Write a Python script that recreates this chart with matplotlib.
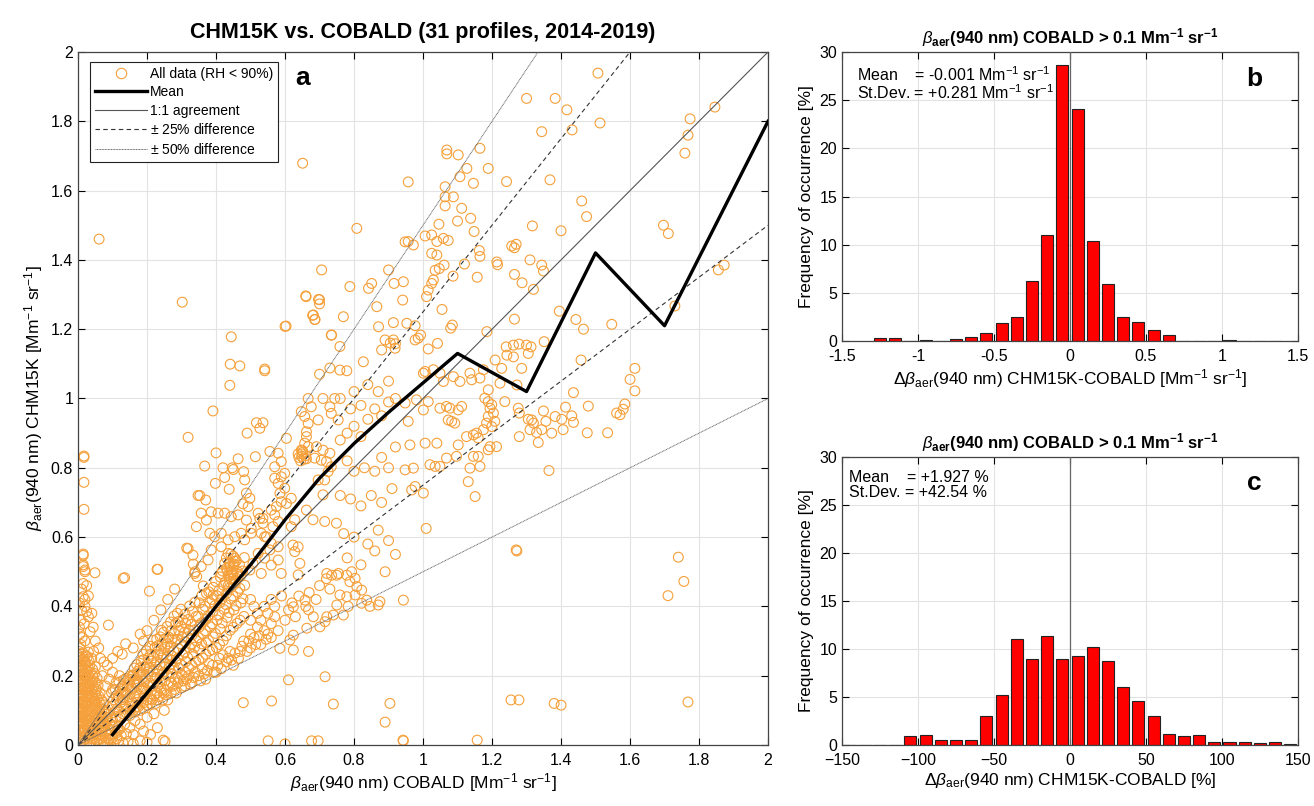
import numpy as np
import matplotlib
matplotlib.use("Agg")
import matplotlib.pyplot as plt
from matplotlib.lines import Line2D

plt.rcParams['font.family'] = ['Liberation Sans', 'DejaVu Sans']
plt.rcParams['mathtext.fontset'] = 'custom'
plt.rcParams['mathtext.rm'] = 'Liberation Sans'
plt.rcParams['mathtext.it'] = 'Liberation Sans:italic'
plt.rcParams['mathtext.bf'] = 'Liberation Sans:bold'

# ---- panel a: scatter points (COBALD, CHM15K) ----
pts_origin = [
    (0.005, 0.005), (0.015, 0.012), (0.025, 0.004), (0.035, 0.010), (0.045, 0.006), (0.055, 0.013),
    (0.065, 0.004), (0.075, 0.011), (0.085, 0.006), (0.095, 0.014), (0.105, 0.005), (0.118, 0.012),
    (0.130, 0.006), (0.145, 0.010), (0.160, 0.004), (0.180, 0.012), (0.200, 0.008),
    (0.003, 0.028), (0.012, 0.033), (0.022, 0.026), (0.032, 0.034), (0.042, 0.027), (0.052, 0.035),
    (0.062, 0.030), (0.072, 0.025), (0.082, 0.033), (0.092, 0.028), (0.110, 0.034), (0.125, 0.027), (0.140, 0.032),
    (0.006, 0.052), (0.016, 0.048), (0.026, 0.055), (0.036, 0.050), (0.046, 0.047), (0.056, 0.056),
    (0.066, 0.050), (0.076, 0.054), (0.088, 0.047), (0.100, 0.055), (0.115, 0.050),
    (0.002, 0.072), (0.012, 0.068), (0.022, 0.075), (0.032, 0.070), (0.042, 0.066), (0.052, 0.074),
    (0.062, 0.069), (0.072, 0.076), (0.083, 0.070), (0.095, 0.078),
    (0.005, 0.092), (0.015, 0.088), (0.025, 0.095), (0.035, 0.090), (0.045, 0.086), (0.055, 0.094),
    (0.065, 0.089), (0.075, 0.096), (0.087, 0.090),
    (0.003, 0.112), (0.013, 0.108), (0.023, 0.115), (0.033, 0.110), (0.043, 0.106), (0.053, 0.114),
    (0.063, 0.109), (0.075, 0.116),
    (0.006, 0.132), (0.016, 0.128), (0.026, 0.135), (0.036, 0.130), (0.046, 0.126), (0.056, 0.134), (0.068, 0.130),
    (0.002, 0.152), (0.012, 0.148), (0.022, 0.155), (0.032, 0.150), (0.042, 0.146), (0.052, 0.154), (0.064, 0.150),
    (0.005, 0.172), (0.015, 0.168), (0.025, 0.175), (0.035, 0.170), (0.045, 0.166), (0.058, 0.172),
    (0.003, 0.192), (0.013, 0.188), (0.023, 0.195), (0.033, 0.190), (0.043, 0.186), (0.055, 0.193),
    (0.006, 0.212), (0.016, 0.208), (0.026, 0.215), (0.036, 0.210), (0.048, 0.206),
    (0.002, 0.232), (0.012, 0.228), (0.022, 0.235), (0.034, 0.230), (0.050, 0.226),
    (0.005, 0.252), (0.015, 0.248), (0.027, 0.255), (0.040, 0.250),
    (0.003, 0.270), (0.014, 0.266), (0.030, 0.268),
    (0.008, 0.290), (0.020, 0.300), (0.005, 0.320), (0.035, 0.327), (0.044, 0.340), (0.030, 0.370),
    (0.025, 0.385), (0.020, 0.400), (0.015, 0.428), (0.015, 0.466), (0.088, 0.346),
    (0.070, 0.200), (0.080, 0.170), (0.090, 0.190), (0.100, 0.160), (0.110, 0.180), (0.120, 0.200),
    (0.130, 0.170), (0.085, 0.230), (0.100, 0.210), (0.140, 0.150), (0.150, 0.190), (0.160, 0.200),
    (0.170, 0.180), (0.180, 0.210),
]

pts_origin_fill = [
    (0.000, 0.018), (0.010, 0.020), (0.020, 0.017), (0.030, 0.021), (0.040, 0.018), (0.050, 0.020),
    (0.060, 0.016), (0.070, 0.019), (0.080, 0.021), (0.090, 0.017), (0.100, 0.020), (0.112, 0.018),
    (0.000, 0.040), (0.010, 0.042), (0.020, 0.039), (0.030, 0.041), (0.040, 0.038), (0.050, 0.043),
    (0.060, 0.040), (0.070, 0.042), (0.080, 0.039), (0.094, 0.041), (0.108, 0.040),
    (0.000, 0.061), (0.010, 0.063), (0.020, 0.060), (0.030, 0.062), (0.040, 0.059), (0.050, 0.064),
    (0.060, 0.061), (0.070, 0.063), (0.080, 0.060), (0.092, 0.062),
    (0.000, 0.081), (0.010, 0.083), (0.020, 0.080), (0.030, 0.082), (0.040, 0.079), (0.050, 0.084),
    (0.060, 0.081), (0.070, 0.083), (0.082, 0.080),
    (0.000, 0.101), (0.010, 0.103), (0.020, 0.100), (0.030, 0.102), (0.040, 0.099), (0.050, 0.104),
    (0.060, 0.101), (0.070, 0.103), (0.081, 0.100),
    (0.000, 0.121), (0.010, 0.123), (0.020, 0.120), (0.030, 0.122), (0.040, 0.119), (0.050, 0.124),
    (0.062, 0.121), (0.074, 0.123),
    (0.000, 0.141), (0.010, 0.143), (0.020, 0.140), (0.030, 0.142), (0.040, 0.139), (0.050, 0.144), (0.060, 0.141),
    (0.000, 0.161), (0.010, 0.163), (0.020, 0.160), (0.030, 0.162), (0.040, 0.159), (0.052, 0.161),
    (0.000, 0.181), (0.010, 0.183), (0.020, 0.180), (0.030, 0.182), (0.040, 0.179), (0.050, 0.181),
    (0.000, 0.201), (0.010, 0.203), (0.020, 0.200), (0.030, 0.202), (0.042, 0.199),
    (0.000, 0.221), (0.010, 0.223), (0.020, 0.220), (0.030, 0.222), (0.042, 0.219),
    (0.000, 0.241), (0.010, 0.243), (0.020, 0.240), (0.032, 0.242),
    (0.000, 0.259), (0.010, 0.261), (0.021, 0.258),
    (0.005, 0.280), (0.012, 0.310), (0.004, 0.340), (0.018, 0.350), (0.008, 0.360), (0.010, 0.390),
    (0.004, 0.410), (0.020, 0.420), (0.030, 0.430), (0.010, 0.450), (0.025, 0.460), (0.040, 0.380),
    (0.050, 0.300), (0.060, 0.280), (0.045, 0.270), (0.065, 0.250), (0.075, 0.240),
    (0.120, 0.045), (0.135, 0.060), (0.150, 0.050), (0.165, 0.070), (0.180, 0.060), (0.200, 0.080),
    (0.220, 0.090), (0.190, 0.040), (0.210, 0.030), (0.230, 0.050), (0.250, 0.100), (0.160, 0.030),
]

pts_left_column = [
    (0.015, 0.551), (0.015, 0.520), (0.020, 0.505), (0.049, 0.497), (0.015, 0.547), (0.015, 0.515),
    (0.020, 0.500), (0.017, 0.834), (0.017, 0.830), (0.017, 0.758), (0.017, 0.680), (0.061, 1.460),
    (0.131, 0.481), (0.135, 0.483), (0.229, 0.507), (0.231, 0.507), (0.207, 0.444),
    (0.100, 0.250), (0.115, 0.270), (0.128, 0.262), (0.138, 0.292), (0.160, 0.280), (0.180, 0.320),
    (0.200, 0.330), (0.220, 0.360), (0.190, 0.300), (0.240, 0.390), (0.260, 0.420), (0.280, 0.450),
]

pts_band = [
    (0.100, 0.072), (0.104, 0.093), (0.098, 0.112), (0.103, 0.131), (0.097, 0.151),
    (0.121, 0.082), (0.118, 0.101), (0.123, 0.122), (0.117, 0.141), (0.122, 0.162), (0.119, 0.181),
    (0.141, 0.091), (0.138, 0.112), (0.143, 0.131), (0.137, 0.152), (0.142, 0.171), (0.139, 0.192),
    (0.161, 0.101), (0.158, 0.122), (0.163, 0.141), (0.157, 0.162), (0.162, 0.181), (0.159, 0.202), (0.163, 0.222),
    (0.181, 0.121), (0.178, 0.142), (0.183, 0.161), (0.177, 0.182), (0.182, 0.201), (0.179, 0.222), (0.183, 0.243),
    (0.201, 0.131), (0.198, 0.152), (0.203, 0.171), (0.197, 0.192), (0.202, 0.211), (0.199, 0.232),
    (0.203, 0.251), (0.198, 0.272),
    (0.221, 0.142), (0.218, 0.171), (0.223, 0.191), (0.217, 0.212), (0.222, 0.231), (0.219, 0.252),
    (0.223, 0.281), (0.218, 0.302),
    (0.241, 0.161), (0.238, 0.182), (0.243, 0.201), (0.237, 0.232), (0.242, 0.251), (0.239, 0.272),
    (0.243, 0.291), (0.238, 0.312), (0.242, 0.331),
    (0.261, 0.171), (0.258, 0.202), (0.263, 0.221), (0.257, 0.252), (0.262, 0.271), (0.259, 0.292),
    (0.263, 0.311), (0.258, 0.342),
    (0.281, 0.191), (0.278, 0.222), (0.283, 0.241), (0.277, 0.272), (0.282, 0.301), (0.279, 0.322),
    (0.283, 0.351), (0.278, 0.372),
    (0.301, 0.201), (0.298, 0.232), (0.303, 0.261), (0.297, 0.292), (0.302, 0.311), (0.299, 0.342),
    (0.303, 0.361), (0.298, 0.392),
    (0.321, 0.221), (0.318, 0.252), (0.323, 0.281), (0.317, 0.312), (0.322, 0.331), (0.319, 0.362), (0.323, 0.401),
    (0.341, 0.241), (0.338, 0.282), (0.343, 0.301), (0.337, 0.332), (0.342, 0.371), (0.339, 0.412),
    (0.361, 0.251), (0.358, 0.292), (0.363, 0.321), (0.357, 0.352), (0.362, 0.391), (0.359, 0.432),
    (0.381, 0.271), (0.378, 0.302), (0.383, 0.341), (0.377, 0.372), (0.382, 0.411), (0.379, 0.442),
    (0.401, 0.281), (0.398, 0.322), (0.403, 0.361), (0.397, 0.402), (0.402, 0.431), (0.399, 0.472),
    (0.421, 0.301), (0.418, 0.352), (0.423, 0.391), (0.417, 0.422), (0.422, 0.461), (0.419, 0.502),
    (0.441, 0.331), (0.438, 0.382), (0.443, 0.421), (0.437, 0.452), (0.442, 0.481), (0.439, 0.522), (0.443, 0.551),
    (0.461, 0.351), (0.458, 0.402), (0.463, 0.441), (0.457, 0.472), (0.462, 0.501), (0.459, 0.532),
    (0.481, 0.371), (0.478, 0.422), (0.483, 0.461), (0.477, 0.502), (0.482, 0.541),
    (0.435, 0.490), (0.445, 0.500), (0.450, 0.515), (0.440, 0.525), (0.455, 0.530), (0.430, 0.510),
    (0.460, 0.495), (0.440, 0.470), (0.450, 0.480), (0.435, 0.460),
]

pts_band_fill = [
    (0.110, 0.082), (0.112, 0.103), (0.109, 0.122), (0.111, 0.142), (0.108, 0.160),
    (0.130, 0.090), (0.132, 0.110), (0.129, 0.131), (0.131, 0.150), (0.128, 0.170), (0.132, 0.188),
    (0.150, 0.100), (0.152, 0.120), (0.149, 0.140), (0.151, 0.160), (0.148, 0.181), (0.152, 0.200),
    (0.170, 0.110), (0.172, 0.131), (0.169, 0.151), (0.171, 0.172), (0.168, 0.192), (0.172, 0.212), (0.170, 0.232),
    (0.190, 0.122), (0.192, 0.142), (0.189, 0.163), (0.191, 0.183), (0.188, 0.204), (0.192, 0.224),
    (0.190, 0.246), (0.188, 0.262),
    (0.210, 0.133), (0.212, 0.156), (0.209, 0.178), (0.211, 0.200), (0.208, 0.222), (0.212, 0.242),
    (0.210, 0.262), (0.208, 0.285),
    (0.230, 0.150), (0.232, 0.172), (0.229, 0.195), (0.231, 0.218), (0.228, 0.240), (0.232, 0.262),
    (0.230, 0.286), (0.228, 0.305),
    (0.250, 0.160), (0.252, 0.185), (0.249, 0.210), (0.251, 0.235), (0.248, 0.260), (0.252, 0.282),
    (0.250, 0.305), (0.248, 0.325),
    (0.270, 0.180), (0.272, 0.206), (0.269, 0.232), (0.271, 0.258), (0.268, 0.285), (0.272, 0.306),
    (0.270, 0.330), (0.268, 0.355),
    (0.290, 0.195), (0.292, 0.222), (0.289, 0.250), (0.291, 0.278), (0.288, 0.305), (0.292, 0.330),
    (0.290, 0.356), (0.288, 0.380),
    (0.310, 0.210), (0.312, 0.240), (0.309, 0.268), (0.311, 0.298), (0.308, 0.325), (0.312, 0.352), (0.310, 0.378),
    (0.330, 0.230), (0.332, 0.262), (0.329, 0.292), (0.331, 0.318), (0.328, 0.348), (0.332, 0.385),
    (0.350, 0.245), (0.352, 0.275), (0.349, 0.310), (0.351, 0.340), (0.348, 0.372), (0.352, 0.410),
    (0.370, 0.262), (0.372, 0.295), (0.369, 0.330), (0.371, 0.362), (0.368, 0.400), (0.372, 0.438),
    (0.390, 0.275), (0.392, 0.312), (0.389, 0.350), (0.391, 0.385), (0.388, 0.420), (0.392, 0.455),
    (0.410, 0.290), (0.412, 0.335), (0.409, 0.375), (0.411, 0.410), (0.408, 0.445), (0.412, 0.485),
    (0.430, 0.315), (0.432, 0.368), (0.429, 0.405), (0.431, 0.438), (0.428, 0.470), (0.432, 0.505), (0.430, 0.540),
    (0.450, 0.340), (0.452, 0.390), (0.449, 0.430), (0.451, 0.462), (0.448, 0.492), (0.452, 0.522), (0.450, 0.545),
    (0.470, 0.360), (0.472, 0.410), (0.469, 0.452), (0.471, 0.488), (0.468, 0.520),
]

pts_low = [
    (0.180, 0.100), (0.210, 0.120), (0.230, 0.130), (0.250, 0.150), (0.260, 0.130), (0.280, 0.160),
    (0.290, 0.180), (0.310, 0.170), (0.320, 0.200), (0.330, 0.180), (0.350, 0.200), (0.360, 0.220),
    (0.370, 0.190), (0.390, 0.230), (0.400, 0.210), (0.410, 0.250), (0.430, 0.240), (0.440, 0.270),
    (0.450, 0.230), (0.470, 0.270), (0.480, 0.300), (0.500, 0.280), (0.510, 0.310), (0.520, 0.340),
    (0.530, 0.290), (0.550, 0.320), (0.560, 0.350), (0.570, 0.370), (0.580, 0.330), (0.600, 0.360),
    (0.610, 0.390), (0.620, 0.410), (0.630, 0.370), (0.640, 0.430), (0.660, 0.400), (0.670, 0.440),
    (0.690, 0.420), (0.700, 0.460), (0.720, 0.480), (0.730, 0.450), (0.750, 0.490),
    (0.721, 0.495), (0.735, 0.490), (0.755, 0.495), (0.779, 0.490), (0.793, 0.500), (0.803, 0.481),
    (0.788, 0.471), (0.808, 0.457), (0.822, 0.447), (0.803, 0.433), (0.779, 0.428), (0.759, 0.433),
    (0.750, 0.404), (0.769, 0.375), (0.740, 0.375), (0.783, 0.400), (0.822, 0.409), (0.846, 0.400),
    (0.870, 0.404), (0.875, 0.414), (0.837, 0.418), (0.943, 0.418),
    (0.624, 0.399), (0.658, 0.418), (0.668, 0.390), (0.682, 0.370), (0.721, 0.370), (0.701, 0.341),
    (0.663, 0.337), (0.624, 0.317), (0.585, 0.279), (0.624, 0.274), (0.668, 0.270), (0.716, 0.356),
    (0.614, 0.303),
    (0.716, 0.197), (0.610, 0.188), (0.479, 0.122), (0.561, 0.127), (0.740, 0.118), (0.904, 0.120),
    (0.551, 0.012), (0.600, 0.003), (0.677, 0.012), (0.696, 0.012), (0.943, 0.012), (0.247, 0.014),
    (0.252, 0.010), (0.315, 0.568), (0.334, 0.522), (0.344, 0.486), (0.339, 0.500), (0.363, 0.459),
    (0.392, 0.433),
    (0.150, 0.085), (0.165, 0.095), (0.175, 0.110), (0.190, 0.105), (0.200, 0.115), (0.215, 0.130),
    (0.225, 0.120), (0.235, 0.140), (0.245, 0.130), (0.255, 0.145), (0.270, 0.150), (0.275, 0.170),
    (0.285, 0.150), (0.300, 0.165), (0.305, 0.185), (0.315, 0.190), (0.325, 0.175), (0.335, 0.195),
    (0.340, 0.210), (0.355, 0.185), (0.365, 0.205), (0.375, 0.215), (0.380, 0.235), (0.395, 0.210),
    (0.405, 0.230), (0.415, 0.220), (0.420, 0.260), (0.435, 0.250), (0.445, 0.245), (0.455, 0.265),
    (0.465, 0.250), (0.475, 0.285), (0.490, 0.270), (0.495, 0.300), (0.500, 0.320), (0.515, 0.290),
    (0.525, 0.315), (0.540, 0.330), (0.545, 0.305), (0.560, 0.310),
    (0.500, 0.360), (0.520, 0.380), (0.540, 0.400), (0.560, 0.420), (0.530, 0.360), (0.550, 0.380),
    (0.570, 0.400), (0.590, 0.430), (0.510, 0.400), (0.500, 0.420),
]

pts_mid = [
    (0.302, 1.278), (0.660, 1.296), (0.700, 1.285), (0.700, 1.273), (0.680, 1.240), (0.686, 1.228),
    (0.600, 1.208), (0.734, 1.183), (0.444, 1.178), (0.441, 1.099), (0.469, 1.094), (0.541, 1.080),
    (0.541, 1.085), (0.440, 1.038), (0.700, 1.070), (0.730, 1.088), (0.391, 0.964), (0.517, 0.930),
    (0.536, 0.930), (0.527, 0.914), (0.490, 0.900), (0.319, 0.888), (0.400, 0.843), (0.367, 0.805),
    (0.420, 0.800), (0.447, 0.800), (0.450, 0.795), (0.425, 0.772), (0.398, 0.755), (0.480, 0.789),
    (0.483, 0.765), (0.464, 0.826), (0.514, 0.832), (0.438, 0.738), (0.348, 0.720), (0.353, 0.720),
    (0.370, 0.707), (0.488, 0.727), (0.498, 0.712), (0.478, 0.696), (0.319, 0.567), (0.333, 0.548),
    (0.343, 0.630), (0.357, 0.669), (0.372, 0.649), (0.386, 0.673), (0.406, 0.669), (0.425, 0.669),
    (0.444, 0.659), (0.464, 0.664), (0.382, 0.611), (0.396, 0.601), (0.415, 0.611), (0.435, 0.592),
    (0.454, 0.601), (0.473, 0.611), (0.483, 0.592), (0.415, 0.572), (0.435, 0.553), (0.454, 0.539),
    (0.425, 0.524), (0.440, 0.515), (0.444, 0.500), (0.415, 0.495), (0.464, 0.486), (0.386, 0.563),
    (0.377, 0.534), (0.357, 0.515), (0.338, 0.495), (0.488, 0.649), (0.502, 0.625), (0.493, 0.688),
    (0.527, 0.654), (0.531, 0.611), (0.546, 0.601), (0.560, 0.582), (0.556, 0.563), (0.541, 0.539),
    (0.522, 0.553), (0.507, 0.524), (0.498, 0.505), (0.531, 0.495), (0.560, 0.519), (0.580, 0.534),
    (0.589, 0.495), (0.580, 0.572),
    (0.710, 1.000), (0.730, 0.976), (0.744, 1.000), (0.734, 0.957), (0.754, 0.938), (0.696, 0.938),
    (0.676, 0.976), (0.667, 1.000), (0.647, 0.962), (0.657, 0.948), (0.667, 0.928), (0.662, 0.904),
    (0.662, 0.890), (0.657, 0.871), (0.667, 0.861), (0.647, 0.851), (0.604, 0.885), (0.580, 0.842),
    (0.556, 0.847), (0.589, 0.818), (0.570, 0.803), (0.599, 0.784), (0.589, 0.774), (0.570, 0.770),
    (0.580, 0.755), (0.599, 0.741), (0.585, 0.726), (0.604, 0.697), (0.589, 0.702), (0.575, 0.688),
    (0.560, 0.678), (0.570, 0.664), (0.580, 0.645), (0.565, 0.630), (0.541, 0.601), (0.522, 0.669),
    (0.536, 0.654), (0.536, 0.640), (0.502, 0.611), (0.618, 0.712), (0.628, 0.650), (0.618, 0.630),
    (0.623, 0.577), (0.638, 0.572), (0.628, 0.558), (0.643, 0.524), (0.638, 0.491), (0.662, 0.678),
    (0.710, 0.722), (0.715, 0.645), (0.681, 0.650), (0.696, 0.765), (0.715, 0.765), (0.725, 0.789),
    (0.734, 0.803), (0.720, 0.818), (0.705, 0.822), (0.686, 0.828), (0.691, 0.861), (0.710, 0.851),
    (0.730, 0.842), (0.749, 0.640),
    (0.640, 0.830), (0.650, 0.840), (0.655, 0.825), (0.660, 0.835), (0.645, 0.820), (0.652, 0.845),
    (0.648, 0.833), (0.662, 0.826), (0.638, 0.840), (0.650, 0.850),
    (0.760, 0.880), (0.780, 0.900), (0.800, 0.920), (0.820, 0.890), (0.840, 0.940), (0.860, 0.970),
    (0.880, 0.950), (0.900, 0.990), (0.920, 1.000), (0.780, 0.820), (0.800, 0.790), (0.830, 0.800),
    (0.860, 0.790), (0.880, 0.830), (0.900, 0.800), (0.920, 0.860), (0.760, 0.720), (0.790, 0.710),
    (0.820, 0.690), (0.850, 0.720), (0.880, 0.700), (0.910, 0.740), (0.770, 0.610), (0.800, 0.600),
    (0.840, 0.580), (0.870, 0.620), (0.900, 0.590), (0.780, 0.540), (0.820, 0.520), (0.860, 0.560),
    (0.890, 0.500), (0.920, 0.550), (0.800, 1.020), (0.840, 1.040), (0.870, 1.020), (0.900, 1.050),
    (0.760, 1.000), (0.790, 0.970), (0.820, 0.980),
    (0.651, 1.679), (0.808, 1.491), (0.706, 1.371), (0.788, 1.323), (0.661, 1.294), (0.697, 1.286),
    (0.682, 1.241), (0.687, 1.228), (0.769, 1.236), (0.603, 1.209), (0.735, 1.183), (0.759, 1.150),
    (0.759, 1.082), (0.779, 1.080), (0.827, 1.106), (0.871, 1.207), (0.914, 1.219), (0.914, 1.169),
    (0.919, 1.145), (0.890, 1.169), (0.880, 1.140), (0.866, 1.265), (0.900, 1.371), (0.916, 1.332),
    (0.842, 1.318), (0.851, 1.332), (0.905, 1.160), (0.920, 1.158),
]

pts_high = [
    (1.064, 1.611), (1.107, 1.640), (1.102, 1.703), (1.069, 1.717), (1.069, 1.706), (1.127, 1.664),
    (1.146, 1.621), (1.165, 1.722), (1.189, 1.664), (1.242, 1.626), (1.300, 1.866), (1.383, 1.866),
    (1.344, 1.770), (1.368, 1.631), (1.064, 1.582), (1.088, 1.582), (1.507, 1.939), (1.432, 1.775),
    (1.513, 1.795), (1.774, 1.807), (1.846, 1.841), (1.768, 1.760), (1.759, 1.708), (1.417, 1.833),
    (0.957, 1.625), (0.948, 1.452),
    (1.064, 1.556), (1.112, 1.549), (1.046, 1.503), (1.100, 1.512), (1.138, 1.520), (1.148, 1.482),
    (1.317, 1.498), (1.400, 1.484), (1.474, 1.525), (1.460, 1.570), (1.697, 1.500), (1.711, 1.476),
    (1.856, 1.371), (1.873, 1.385), (1.730, 1.267), (0.957, 1.453), (0.972, 1.443), (1.006, 1.469),
    (1.025, 1.472), (1.059, 1.462), (1.073, 1.456), (1.040, 1.453), (1.025, 1.419), (1.040, 1.414),
    (1.061, 1.385), (1.047, 1.375), (1.035, 1.370), (1.030, 1.342), (1.025, 1.332), (1.015, 1.313),
    (1.010, 1.294), (1.087, 1.353), (1.157, 1.350), (1.165, 1.410), (1.120, 1.388), (1.163, 1.427),
    (1.214, 1.394), (1.216, 1.386), (1.265, 1.435), (1.257, 1.440), (1.270, 1.445), (1.265, 1.358),
    (1.287, 1.334), (1.310, 1.400), (1.344, 1.385), (1.349, 1.368), (1.320, 1.315), (0.943, 1.337),
    (0.941, 1.284), (1.055, 1.257), (1.395, 1.252), (1.443, 1.228), (1.465, 1.200), (1.547, 1.214),
    (1.265, 1.229), (1.085, 1.212), (1.080, 1.203), (1.185, 1.193), (0.953, 1.217), (0.977, 1.210),
    (0.977, 1.169), (0.993, 1.183), (0.986, 1.174), (1.042, 1.159), (1.015, 1.143),
    (1.241, 1.149), (1.262, 1.154), (1.278, 1.157), (1.300, 1.154), (1.313, 1.149), (1.305, 1.130),
    (1.262, 1.120), (1.243, 1.125), (1.209, 1.111), (1.228, 1.087), (1.286, 1.087), (1.272, 1.039),
    (1.351, 1.164), (1.458, 1.111), (1.436, 1.017), (1.479, 0.978), (1.614, 1.087), (1.600, 1.055),
    (1.614, 1.022), (1.585, 0.984), (1.580, 0.969), (1.571, 0.953), (1.561, 0.958), (1.535, 0.901),
    (1.476, 0.901),
    (1.349, 0.964), (1.356, 0.934), (1.383, 0.948), (1.402, 0.940), (1.406, 0.910), (1.431, 0.950),
    (1.436, 0.931), (1.413, 0.975), (1.305, 0.940), (1.315, 0.938), (1.320, 0.929), (1.310, 0.910),
    (1.329, 0.902), (1.334, 0.873), (1.373, 0.900), (1.344, 0.910), (1.279, 0.958), (1.279, 0.890),
    (1.365, 0.792),
    (1.001, 1.073), (1.006, 1.078), (1.030, 1.083), (1.049, 1.073), (1.059, 1.049), (1.088, 1.063),
    (1.107, 1.049), (1.136, 1.073), (1.141, 1.054), (1.165, 1.059), (1.175, 1.083), (1.189, 1.025),
    (1.179, 1.001), (1.189, 0.991), (1.199, 0.982), (1.194, 0.972), (1.204, 0.958), (1.189, 0.948),
    (1.208, 0.934), (1.184, 0.929), (1.199, 0.919), (1.175, 0.910), (1.155, 0.900), (1.146, 0.895),
    (1.160, 0.886), (1.126, 0.890), (1.102, 0.866), (1.040, 0.871), (1.006, 0.871), (0.962, 0.866),
    (0.972, 0.799), (0.948, 0.794), (1.020, 0.809), (1.035, 0.804), (1.049, 0.804), (1.068, 0.828),
    (1.097, 0.833), (1.146, 0.833), (1.160, 0.833), (1.165, 0.804), (1.136, 0.799), (1.131, 0.760),
    (1.151, 0.717), (0.977, 0.746), (0.967, 0.736), (1.001, 0.727), (1.068, 0.977), (1.078, 0.972),
    (1.073, 0.938), (1.083, 0.934), (1.092, 0.929), (1.102, 0.967), (1.112, 0.977), (1.049, 0.972),
    (1.001, 0.967), (1.015, 0.991), (0.981, 0.996), (0.948, 0.987), (0.957, 0.934), (1.213, 0.861),
    (1.194, 0.861), (1.189, 0.852), (1.223, 1.044), (1.237, 0.991), (1.276, 0.972),
]

pts_outliers = [
    (1.270, 0.563), (1.272, 0.560), (1.740, 0.542), (1.756, 0.472), (1.710, 0.431), (1.009, 0.625),
    (1.157, 0.014), (0.942, 0.014), (1.255, 0.130), (1.278, 0.130), (1.380, 0.120), (1.400, 0.115),
    (1.768, 0.124), (0.890, 0.066),
]

# mean curve (panel a)
mean_x = [0.1, 0.2, 0.3, 0.4, 0.5, 0.6, 0.7, 0.8, 0.9, 1.1, 1.3, 1.5, 1.7, 2.0]
mean_y = [0.03, 0.15, 0.27, 0.40, 0.52, 0.65, 0.77, 0.87, 0.96, 1.13, 1.02, 1.42, 1.21, 1.80]

# reference lines: 1:1, +25%, -25%, +50%, -50%
ref_slopes = [1.0, 1.25, 0.75, 1.5, 0.5]

# ---- panel b: histogram of absolute difference ----
hist_b_centers = [-1.25, -1.15, -1.05, -0.95, -0.85, -0.75, -0.65, -0.55, -0.45, -0.35, -0.25, -0.15, -0.05,
                  0.05, 0.15, 0.25, 0.35, 0.45, 0.55, 0.65, 0.75, 0.85, 0.95, 1.05, 1.15, 1.25, 1.35]
hist_b_freq = [0.28, 0.35, 0.0, 0.1, 0.05, 0.17, 0.45, 0.8, 1.9, 2.5, 6.25, 11.05, 28.7,
               24.1, 10.4, 5.9, 2.5, 1.93, 1.1, 0.62, 0.05, 0.05, 0.05, 0.1, 0.05, 0.05, 0.05]

# ---- panel c: histogram of relative difference ----
hist_c_centers = [-145, -135, -125, -115, -105, -95, -85, -75, -65, -55, -45, -35, -25, -15, -5,
                  5, 15, 25, 35, 45, 55, 65, 75, 85, 95, 105, 115, 125, 135, 145]
hist_c_freq = [0.05, 0.05, 0.05, 0.05, 0.97, 1.08, 0.52, 0.55, 0.55, 3.05, 5.24, 11.0, 9.0, 11.35, 8.92,
               9.24, 10.24, 8.78, 6.0, 4.58, 3.02, 1.15, 0.9, 1.08, 0.35, 0.35, 0.28, 0.17, 0.28, 0.14]

orange = '#f5a03a'
grid_c = '#e3e3e3'


def style_axes(ax):
    ax.grid(True, color=grid_c, lw=0.8)
    ax.set_axisbelow(True)
    ax.tick_params(direction='in', top=True, right=True, length=5, labelsize=11.5, width=0.8)
    ax.tick_params(axis='x', pad=6)
    for s in ax.spines.values():
        s.set_color('#444444')
        s.set_linewidth(0.9)


fig = plt.figure(figsize=(13.14, 8.06), dpi=100)

# ---------------- panel a ----------------
ax = fig.add_axes([0.0594, 0.0757, 0.5251, 0.8598])
style_axes(ax)
all_pts = (pts_origin + pts_origin_fill + pts_left_column + pts_band + pts_band_fill + pts_low
           + pts_mid + pts_high + pts_outliers)
px = [p[0] for p in all_pts]
py = [p[1] for p in all_pts]
ax.scatter(px, py, s=50, facecolors='none', edgecolors=orange, linewidths=0.8, zorder=2)

xr = np.array([0.0, 2.0])
ax.plot(xr, ref_slopes[0] * xr, color='#555555', lw=0.8, zorder=3)
ax.plot(xr, ref_slopes[1] * xr, color='#333333', lw=0.8, ls=(0, (4, 3)), zorder=3)
ax.plot(xr, ref_slopes[2] * xr, color='#333333', lw=0.8, ls=(0, (4, 3)), zorder=3)
ax.plot(xr, ref_slopes[3] * xr, color='#666666', lw=0.7, ls=(0, (1, 0.6)), zorder=3)
ax.plot(xr, ref_slopes[4] * xr, color='#666666', lw=0.7, ls=(0, (1, 0.6)), zorder=3)
ax.plot(mean_x, mean_y, color='black', lw=2.4, zorder=4)

ax.set_xlim(0, 2)
ax.set_ylim(0, 2)
ax.set_xticks(np.arange(0, 2.01, 0.2))
ax.set_yticks(np.arange(0, 2.01, 0.2))
lbls = ['0', '0.2', '0.4', '0.6', '0.8', '1', '1.2', '1.4', '1.6', '1.8', '2']
ax.set_xticklabels(lbls)
ax.set_yticklabels(lbls)
ax.set_xlabel(r'$\beta_{\mathrm{aer}}$(940 nm) COBALD [Mm$^{-1}$ sr$^{-1}$]', fontsize=12.5, labelpad=2)
ax.set_ylabel(r'$\beta_{\mathrm{aer}}$(940 nm) CHM15K [Mm$^{-1}$ sr$^{-1}$]', fontsize=12.5, labelpad=4)
ax.set_title('CHM15K vs. COBALD (31 profiles, 2014-2019)', fontsize=15.5, fontweight='bold', pad=10)
ax.text(0.326, 0.963, 'a', transform=ax.transAxes, fontsize=19, fontweight='bold', ha='center', va='center')

handles = [
    Line2D([], [], ls='none', marker='o', mfc='none', mec=orange, ms=7.5, mew=0.8),
    Line2D([], [], color='black', lw=2.4),
    Line2D([], [], color='#555555', lw=0.8),
    Line2D([], [], color='#333333', lw=0.8, ls=(0, (4, 3))),
    Line2D([], [], color='#666666', lw=0.7, ls=(0, (1, 0.6))),
]
labels = ['All data (RH < 90%)', 'Mean', '1:1 agreement', r'$\pm$ 25% difference', r'$\pm$ 50% difference']
leg = ax.legend(handles, labels, loc='upper left', bbox_to_anchor=(0.018, 0.986), fontsize=10,
                frameon=True, fancybox=False, edgecolor='#222222', framealpha=1, borderpad=0.35,
                labelspacing=0.33, handlelength=3.7, handletextpad=0.25, borderaxespad=0)
leg.get_frame().set_linewidth(0.8)

# ---------------- panel b ----------------
axb = fig.add_axes([0.6408, 0.5769, 0.347, 0.3586])
style_axes(axb)
axb.bar(hist_b_centers, hist_b_freq, width=0.08, color='#ff0000', edgecolor='#222222', lw=0.8, zorder=2)
axb.axvline(0, color='#666666', lw=0.9, zorder=3)
axb.set_xlim(-1.5, 1.5)
axb.set_ylim(0, 30)
axb.set_xticks([-1.5, -1, -0.5, 0, 0.5, 1, 1.5])
axb.set_xticklabels(['-1.5', '-1', '-0.5', '0', '0.5', '1', '1.5'])
axb.set_yticks([0, 5, 10, 15, 20, 25, 30])
axb.set_ylabel('Frequency of occurrence [%]', fontsize=12.5)
axb.set_xlabel(r'$\Delta\beta_{\mathrm{aer}}$(940 nm) CHM15K-COBALD [Mm$^{-1}$ sr$^{-1}$]', fontsize=12.5, labelpad=2)
axb.set_title(r'$\beta_\mathbf{aer}$(940 nm) COBALD > 0.1 Mm$^\mathbf{-1}$ sr$^\mathbf{-1}$',
              fontsize=12, fontweight='bold', pad=6)
axb.text(0.033, 0.955, 'Mean    = -0.001 Mm$^{-1}$ sr$^{-1}$\nSt.Dev. = +0.281 Mm$^{-1}$ sr$^{-1}$',
         transform=axb.transAxes, fontsize=11.5, va='top', ha='left', linespacing=1.0)
axb.text(0.905, 0.905, 'b', transform=axb.transAxes, fontsize=19, fontweight='bold', ha='center', va='center')

# ---------------- panel c ----------------
axc = fig.add_axes([0.6408, 0.0757, 0.347, 0.3573])
style_axes(axc)
axc.bar(hist_c_centers, hist_c_freq, width=8, color='#ff0000', edgecolor='#222222', lw=0.8, zorder=2)
axc.axvline(0, color='#666666', lw=0.9, zorder=3)
axc.set_xlim(-150, 150)
axc.set_ylim(0, 30)
axc.set_xticks([-150, -100, -50, 0, 50, 100, 150])
axc.set_yticks([0, 5, 10, 15, 20, 25, 30])
axc.set_ylabel('Frequency of occurrence [%]', fontsize=12.5)
axc.set_xlabel(r'$\Delta\beta_{\mathrm{aer}}$(940 nm) CHM15K-COBALD [%]', fontsize=12.5, labelpad=2)
axc.set_title(r'$\beta_\mathbf{aer}$(940 nm) COBALD > 0.1 Mm$^\mathbf{-1}$ sr$^\mathbf{-1}$',
              fontsize=12, fontweight='bold', pad=6)
axc.text(0.015, 0.955, 'Mean    = +1.927 %\nSt.Dev. = +42.54 %',
         transform=axc.transAxes, fontsize=11.5, va='top', ha='left', linespacing=1.0)
axc.text(0.905, 0.91, 'c', transform=axc.transAxes, fontsize=19, fontweight='bold', ha='center', va='center')

fig.savefig('out.png', dpi=100)
